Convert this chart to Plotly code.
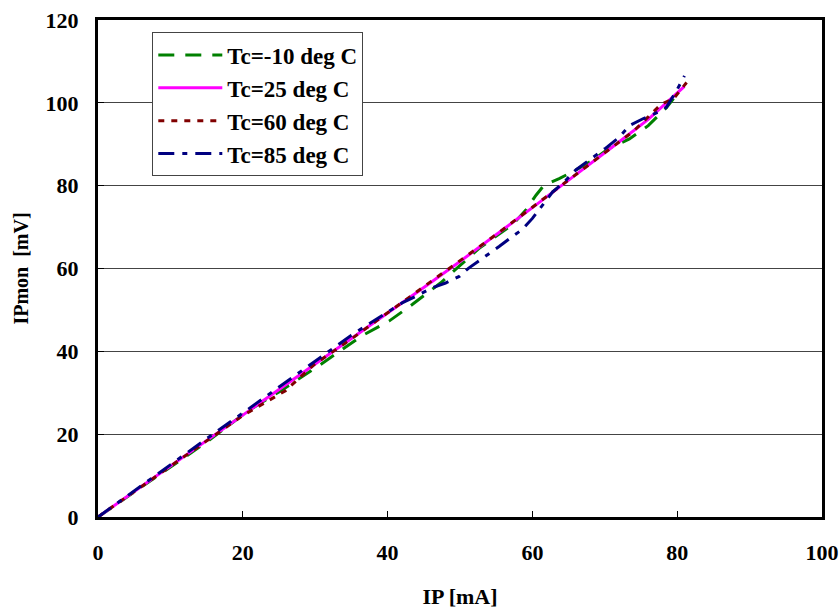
import plotly.graph_objects as go

# Tc = -10 deg C
x_m10 = [0, 5, 10, 15, 20.8, 25, 30.9, 36.4, 40.2, 43.4, 47.3, 52.6, 54.5, 57.2, 59.1, 60.5, 61.6, 63.7, 65.5, 68, 70.5, 73.4, 76, 78.5, 79.5]
y_m10 = [0, 6, 12, 18.1, 25.7, 30.2, 37, 43.7, 47.3, 51.3, 56.5, 64.8, 67.2, 70.5, 74.1, 77.7, 80.1, 81.7, 83.3, 85.8, 88.9, 91.3, 94.5, 98.8, 101]
# Tc = 25 deg C
x_25 = [0, 5, 10, 15, 20, 25, 30, 35, 40, 45, 50, 55, 60, 64, 68, 72, 76, 78.5, 81]
y_25 = [0, 6.1, 12.3, 18.4, 24.6, 30.8, 36.9, 43.1, 49.2, 55.4, 61.7, 68.1, 74.7, 80, 85.2, 90.6, 96, 100, 104]
# Tc = 60 deg C
x_60 = [0, 5, 10, 15, 20, 25.9, 30, 35, 40, 45, 50, 55, 60, 65, 70, 74, 77.8, 79.5, 81.3]
y_60 = [0, 6.1, 12.2, 18.4, 24.5, 30.5, 37, 43, 49.3, 55.5, 61.8, 68.2, 74.8, 81.3, 87.9, 93.2, 99.7, 101, 104.9]
# Tc = 85 deg C
x_85 = [0, 3, 6, 10, 15, 20, 25, 30, 35, 40.2, 42, 43.9, 46.1, 48, 49.9, 51.2, 53.5, 55.4, 57.2, 58.6, 60, 61.4, 62.8, 64.4, 66, 68.1, 70, 72, 73.4, 75.2, 77.3, 78.5, 79.9, 81]
y_85 = [0, 3.8, 7.6, 12.6, 18.9, 25.1, 31.3, 37.6, 43.9, 49.7, 51.7, 53.3, 55.3, 56.5, 58.1, 60.1, 62.9, 65.3, 67.7, 69.4, 72.1, 75.3, 78.5, 80.9, 83.8, 86.5, 88.9, 91.7, 94.5, 96.1, 97.7, 98.9, 102.9, 106.5]

series = [
    ("Tc=-10 deg C", x_m10, y_m10, "#008000", "16px,11px"),
    ("Tc=25 deg C", x_25, y_25, "#FF00FF", "solid"),
    ("Tc=60 deg C", x_60, y_60, "#800000", "6px,7px"),
    ("Tc=85 deg C", x_85, y_85, "#000080", "16px,8px,5px,8px"),
]

FONT = "Liberation Serif"
fig = go.Figure()
for i, (name, xs, ys, col, dash) in enumerate(series):
    fig.add_trace(go.Scatter(x=xs, y=ys, mode="lines", name=name, legendgroup=str(i),
                             line=dict(color=col, width=3, dash=dash)))

fig.update_layout(
    width=840, height=611,
    margin=dict(l=98, r=18, t=20, b=94),
    paper_bgcolor="white", plot_bgcolor="white",
    font=dict(family=FONT, color="black"),
    legend=dict(x=0.075, y=0.975, xanchor="left", yanchor="top",
                bordercolor="#444", borderwidth=1, bgcolor="white",
                font=dict(family=FONT, size=23, color="black", weight="bold"),
                itemwidth=64, tracegroupgap=0, traceorder="grouped"),
    showlegend=True,
)
fig.update_xaxes(range=[0, 100], tickvals=[0, 20, 40, 60, 80, 100], automargin=False,
                 showline=True, linecolor="black", linewidth=3, mirror=True,
                 ticks="inside", ticklen=6, tickcolor="black", showgrid=False, zeroline=False,
                 ticklabelstandoff=14,
                 tickfont=dict(family=FONT, size=22, color="black", weight="bold"),
                 title=dict(text="IP [mA]", font=dict(family=FONT, size=22, color="black", weight="bold"), standoff=25))
fig.update_yaxes(range=[0, 120], tickvals=[0, 20, 40, 60, 80, 100, 120], automargin=False,
                 showline=True, linecolor="black", linewidth=3, mirror=True,
                 ticks="inside", ticklen=6, tickcolor="black",
                 showgrid=True, gridcolor="#444", gridwidth=1, zeroline=False,
                 ticklabelstandoff=12,
                 tickfont=dict(family=FONT, size=22, color="black", weight="bold"),
                 title=dict(text="IPmon  [mV]", font=dict(family=FONT, size=20, color="black", weight="bold"), standoff=12))

fig.write_html("out.html")
